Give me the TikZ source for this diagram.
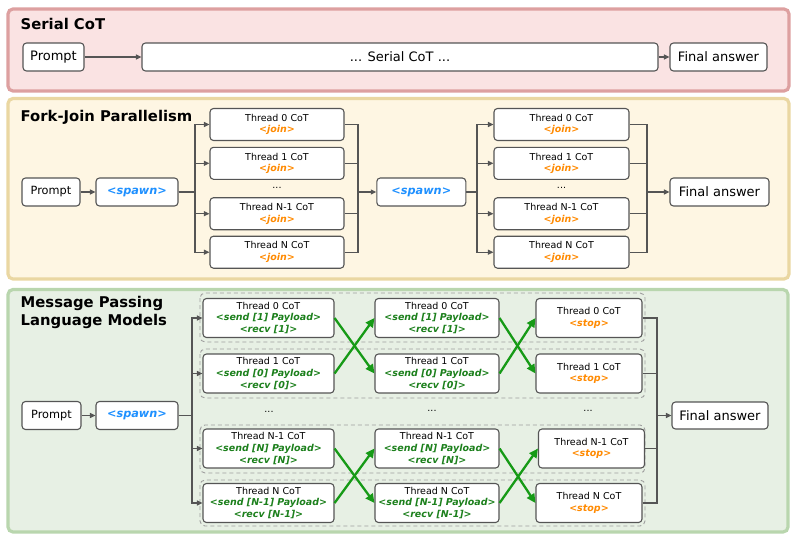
\documentclass[tikz,border=0pt]{standalone}
\usepackage{fontspec}
\setmainfont{DejaVu Sans}
\usepackage{xcolor}
\usetikzlibrary{positioning,arrows.meta,calc}
\definecolor{boxgray}{HTML}{555555}
\definecolor{spawnblue}{HTML}{1E90FF}
\definecolor{tagorange}{HTML}{FF8A00}
\definecolor{sendgreen}{HTML}{1C801C}
\definecolor{msggreen}{HTML}{169A16}
\definecolor{pinkfill}{HTML}{FAE3E3}
\definecolor{pinkline}{HTML}{DDA0A0}
\definecolor{yelfill}{HTML}{FEF6E3}
\definecolor{yelline}{HTML}{EAD7A2}
\definecolor{grnfill}{HTML}{E7F0E4}
\definecolor{grnline}{HTML}{B9D6AE}
\tikzset{
  box/.style={draw=boxgray,fill=white,rounded corners=3.5pt,line width=1.1pt,align=center,inner sep=0pt},
  big/.style={box,font=\fontsize{13}{15}\selectfont,minimum height=28pt},
  mid/.style={box,font=\fontsize{11.3}{13}\selectfont,minimum height=28pt},
  thr/.style={box,font=\fontsize{9.5}{11.6}\selectfont},
  arr/.style={-{Triangle[length=5.5pt,width=5pt]},draw=boxgray,line width=1.1pt},
  garr/.style={-{Triangle[length=9pt,width=8.5pt]},draw=msggreen,line width=2.3pt},
  pnl/.style 2 args={fill=#1,draw=#2,line width=3.2pt,rounded corners=5pt},
}
\newcommand{\spwtag}{{\color{spawnblue}\bfseries\itshape <spawn>}}
\newcommand{\jointag}{{\color{tagorange}\bfseries\itshape <join>}}
\newcommand{\stoptag}{{\color{tagorange}\bfseries\itshape <stop>}}
\newcommand{\sendtag}[1]{{\color{sendgreen}\bfseries\itshape <send [#1] Payload>}}
\newcommand{\recvtag}[1]{{\color{sendgreen}\bfseries\itshape <recv [#1]>}}

\begin{document}
\begin{tikzpicture}[x=1pt,y=-1pt,
   ttl/.style={font=\fontsize{14.8}{18}\selectfont\bfseries,inner sep=0pt,align=left},
   dots/.style={font=\fontsize{9.5}{11}\selectfont,inner sep=0pt},
   band/.style={draw=gray!75,dashed,dash pattern=on 4pt off 3pt,line width=0.9pt,rounded corners=5pt}]
  \useasboundingbox (0,0) rectangle (797,541);
  % panels
  \draw[pnl={pinkfill}{pinkline}] (8,9) rectangle (789,91);
  \draw[pnl={yelfill}{yelline}] (8,98.5) rectangle (789,279);
  \draw[pnl={grnfill}{grnline}] (8,289.5) rectangle (788,532);
  \node[ttl,anchor=base west] (t1) at (20.5,29.5) {Serial CoT};
  \node[ttl,anchor=base west] (t2) at (20.5,121.5) {Fork-Join Parallelism};
  \node[ttl,anchor=north west] (t3) at (20.5,296.5) {Message Passing\\Language Models};

  % serial
  \node[big,minimum width=61pt] (sp) at (53.5,57) {Prompt};
  \node[big,minimum width=516pt] (scot) at (400,57) {... Serial CoT ...};
  \node[big,minimum width=97pt] (sfin) at (718.5,57) {Final answer};
  \draw[arr] (sp) -- (scot);
  \draw[arr] (scot) -- (sfin);

  % fork-join
  \node[mid,minimum width=58pt] (fp) at (51,192) {Prompt};
  \node[mid,minimum width=82pt] (fs1) at (137,192) {\spwtag};
  \node[mid,minimum width=89pt] (fs2) at (421.3,192) {\spwtag};
  \node[big,minimum width=99pt] (ffin) at (719.5,192) {Final answer};
  \coordinate (ff1) at (195,192); \coordinate (fj1) at (358,192);
  \coordinate (ff2) at (477,192); \coordinate (fj2) at (647,192);
  \foreach \i/\y/\n in {0/124.5/0,1/163.3/1,2/213.7/N-1,3/252.2/N} {
    \node[thr,minimum width=134pt,minimum height=32pt] (fa\i) at (277,\y) {Thread \n\ CoT\\\jointag};
    \node[thr,minimum width=135pt,minimum height=32pt] (fb\i) at (561.5,\y) {Thread \n\ CoT\\\jointag};
    \draw[arr] (fs1) -- (ff1) |- (fa\i);
    \draw[arr] (fs2) -- (ff2) |- (fb\i);
    \draw[boxgray,line width=1.1pt] (fa\i) -| (fj1);
    \draw[boxgray,line width=1.1pt] (fb\i) -| (fj2);
  }
  \node[dots] (fd1) at (277,188) {...};
  \node[dots] (fd2) at (561.5,188) {...};
  \draw[arr] (fp) -- (fs1);
  \draw[arr] (fj1) -- (fs2);
  \draw[arr] (fj2) -- (ffin);

  % message passing
  \foreach \ya/\yb in {293/342,349/398,425/473,480/526}
    \draw[band] (200,\ya) rectangle (645,\yb);
  \node[mid,minimum width=59pt] (mp) at (51.5,415.5) {Prompt};
  \node[mid,minimum width=82pt] (ms) at (137,415.5) {\spwtag};
  \node[big,minimum width=96pt,minimum height=27pt] (mfin) at (720,415.5) {Final answer};
  \coordinate (mf) at (192,415.5); \coordinate (mj) at (657,415.5);
  \foreach \i/\y/\n/\p/\x in {0/318/0/1/589,1/373.5/1/0/589,2/448.5/N-1/N/591.5,3/503/N/N-1/589} {
    \node[thr,minimum width=131pt,minimum height=39pt] (ma\i) at (268.5,\y) {Thread \n\ CoT\\\sendtag{\p}\\\recvtag{\p}};
    \node[thr,minimum width=124pt,minimum height=39pt] (mb\i) at (437,\y) {Thread \n\ CoT\\\sendtag{\p}\\\recvtag{\p}};
    \node[thr,minimum width=106pt,minimum height=39pt] (mc\i) at (\x,\y) {Thread \n\ CoT\\\stoptag};
    \draw[arr] (ms) -- (mf) |- (ma\i);
    \draw[boxgray,line width=1.1pt] (mc\i) -| (mj);
  }
  \node[dots] (md1) at (269,412) {...};
  \node[dots] (md2) at (432,411) {...};
  \node[dots] (md3) at (588,411) {...};
  \draw[arr] (mp) -- (ms);
  \draw[arr] (mj) -- (mfin);
  \foreach \a/\b in {ma/mb,mb/mc} {
    \draw[garr] (\a0.east) -- (\b1.west);
    \draw[garr] (\a1.east) -- (\b0.west);
    \draw[garr] (\a2.east) -- (\b3.west);
    \draw[garr] (\a3.east) -- (\b2.west);
  }
\end{tikzpicture}
\end{document}
